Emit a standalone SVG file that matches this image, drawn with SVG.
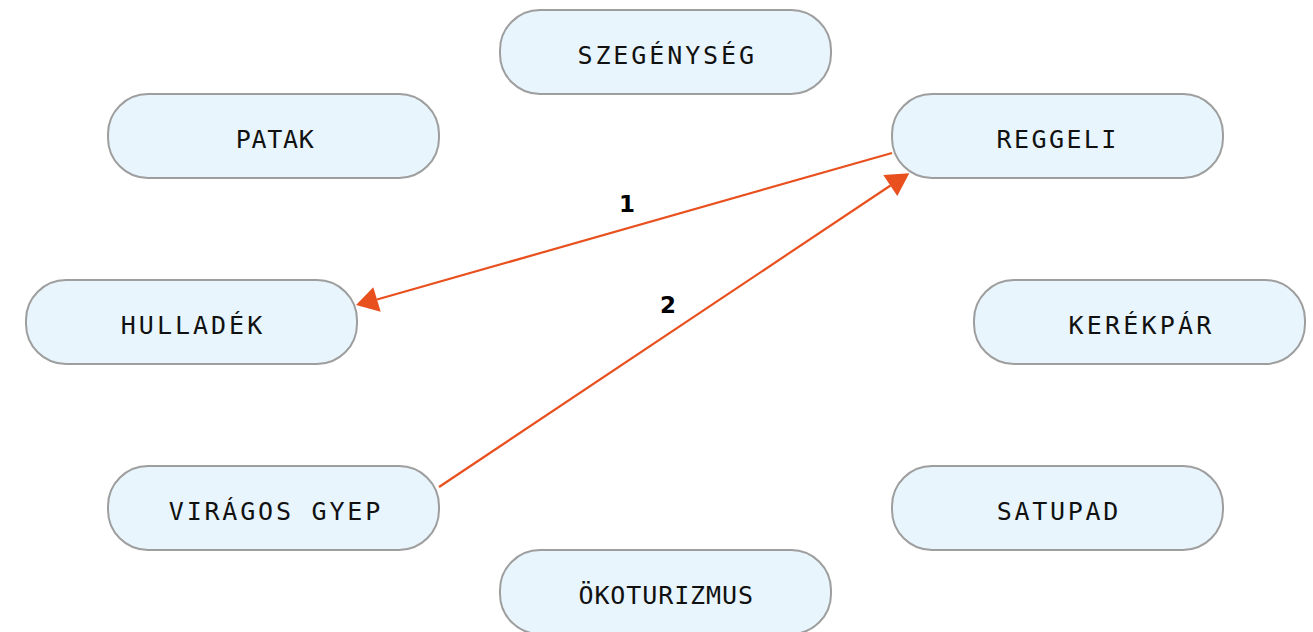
<svg xmlns="http://www.w3.org/2000/svg" width="1313" height="632" viewBox="0 0 1313 632">
<style>
.box{fill:#e8f5fd;stroke:#9e9e9e;stroke-width:2}
.lbl{font-family:"DejaVu Sans Mono",monospace;font-size:25px;fill:#111;text-anchor:middle}
.edge{stroke:#e8501e;stroke-width:2.2;fill:none}
.head{fill:#e8501e}
.elbl{font-family:"DejaVu Sans",sans-serif;font-weight:bold;font-size:23px;fill:#000;text-anchor:middle}
</style>
<rect width="1313" height="632" fill="#ffffff"/>
<g id="connectors">
<g id="e1">
<line class="edge" x1="892" y1="153" x2="377" y2="299.5"/>
<polygon class="head" points="356,305 373.3,287.3 380.7,311.7"/>
<text class="elbl" x="627" y="212">1</text>
</g>
<g id="e2">
<line class="edge" x1="439" y1="487" x2="890.5" y2="185.5"/>
<polygon class="head" points="909.3,173.3 883.3,175 897.3,196"/>
<text class="elbl" x="668" y="313">2</text>
</g>
</g>
<g id="n-szegenyseg"><rect class="box" x="500" y="10" width="331" height="84" rx="40"/><text class="lbl" x="667.2" y="64" letter-spacing="2.9">SZEGÉNYSÉG</text></g>
<g id="n-patak"><rect class="box" x="108" y="94" width="331" height="84" rx="40"/><text class="lbl" x="275.1" y="148" letter-spacing="0.7">PATAK</text></g>
<g id="n-reggeli"><rect class="box" x="892" y="94" width="331" height="84" rx="40"/><text class="lbl" x="1057.7" y="148" letter-spacing="2.4">REGGELI</text></g>
<g id="n-hulladek"><rect class="box" x="26" y="280" width="331" height="84" rx="40"/><text class="lbl" x="193" y="334" letter-spacing="3">HULLADÉK</text></g>
<g id="n-kerekpar"><rect class="box" x="974" y="280" width="331" height="84" rx="40"/><text class="lbl" x="1141.6" y="334" letter-spacing="3.2">KERÉKPÁR</text></g>
<g id="n-viragos"><rect class="box" x="108" y="466" width="331" height="84" rx="40"/><text class="lbl" x="275.9" y="520" letter-spacing="2.8">VIRÁGOS GYEP</text></g>
<g id="n-satupad"><rect class="box" x="892" y="466" width="331" height="84" rx="40"/><text class="lbl" x="1058.9" y="520" letter-spacing="2.7">SATUPAD</text></g>
<g id="n-okoturizmus"><rect class="box" x="500" y="550" width="331" height="84" rx="40"/><text class="lbl" x="666.2" y="603.5" letter-spacing="0.9">ÖKOTURIZMUS</text></g>
</svg>
